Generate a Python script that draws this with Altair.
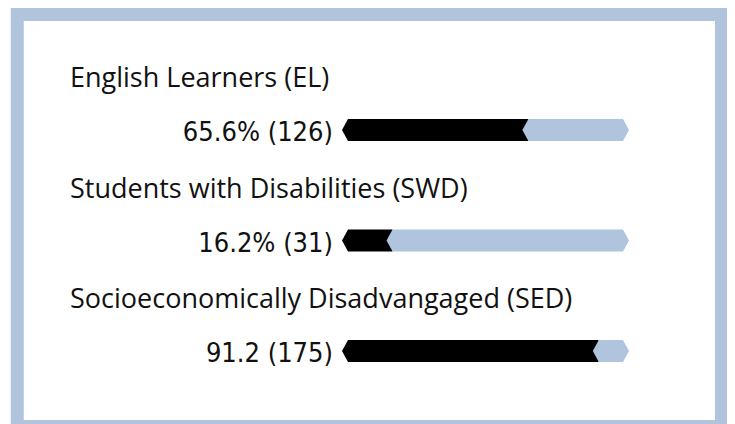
import altair as alt
import pandas as pd

categories = ["English Learners (EL)", "Students with Disabilities (SWD)", "Socioeconomically Disadvangaged (SED)"]
values = [65.6, 16.2, 91.2]
value_labels = ["65.6% (126)", "16.2% (31)", "91.2 (175)"]
rows = [0, 1, 2]

BLUE = "#b0c4de"

df = pd.DataFrame({
    "category": categories,
    "value": values,
    "label": value_labels,
    "row": rows,
    "start": [0] * 3,
    "end": [100] * 3,
})

xs = alt.Scale(domain=[0, 100], range=[340, 615])
ys = alt.Scale(domain=[0, 2], range=[111, 342])
X = lambda f: alt.X(f, type="quantitative", scale=xs, axis=None)
Y = alt.Y("row:Q", scale=ys, axis=None)

diamond = "M-0.545,0L0,-1L0.545,0L0,1Z"

base = alt.Chart(df)

frame = base.transform_filter("datum.row == 0").mark_rect(
    fill="white", stroke=BLUE, strokeWidth=13
).encode(
    x=alt.value(9.25), x2=alt.value(713.5), y=alt.value(0.5), y2=alt.value(412.5)
)

black_bar = base.mark_bar(orient="horizontal", size=22, color="black").encode(
    x=X("start"), x2=alt.X2("value"), y=Y
)
black_tip = base.mark_point(shape=diamond, filled=True, size=484, color="black", opacity=1, strokeWidth=0).encode(
    x=X("start"), y=Y
)
blue_bar = base.mark_bar(orient="horizontal", size=22, color=BLUE).encode(
    x=X("value"), x2=alt.X2("end"), y=Y
)
blue_tip1 = base.mark_point(shape=diamond, filled=True, size=484, color=BLUE, opacity=1, strokeWidth=0).encode(
    x=X("value"), y=Y
)
blue_tip2 = base.mark_point(shape=diamond, filled=True, size=484, color=BLUE, opacity=1, strokeWidth=0).encode(
    x=X("end"), y=Y
)

cat_text = base.mark_text(
    align="left", baseline="alphabetic", dy=-43, fontSize=27, font="Open Sans", color="#111111"
).encode(x=alt.value(62), y=Y, text="category:N")

val_text = base.mark_text(
    align="right", baseline="alphabetic", dy=11, fontSize=27,
    font="DejaVu Sans Condensed, sans-serif", color="#111111"
).encode(x=alt.value(325), y=Y, text="label:N")

chart = alt.layer(
    frame, black_bar, black_tip, blue_bar, blue_tip1, blue_tip2, cat_text, val_text
).properties(
    width=719, height=416, padding=0, background="white",
    autosize=alt.AutoSizeParams(type="fit", contains="padding"),
).configure_view(stroke=None)

chart.save("out.html", embed_options={"renderer": "svg", "actions": False})
